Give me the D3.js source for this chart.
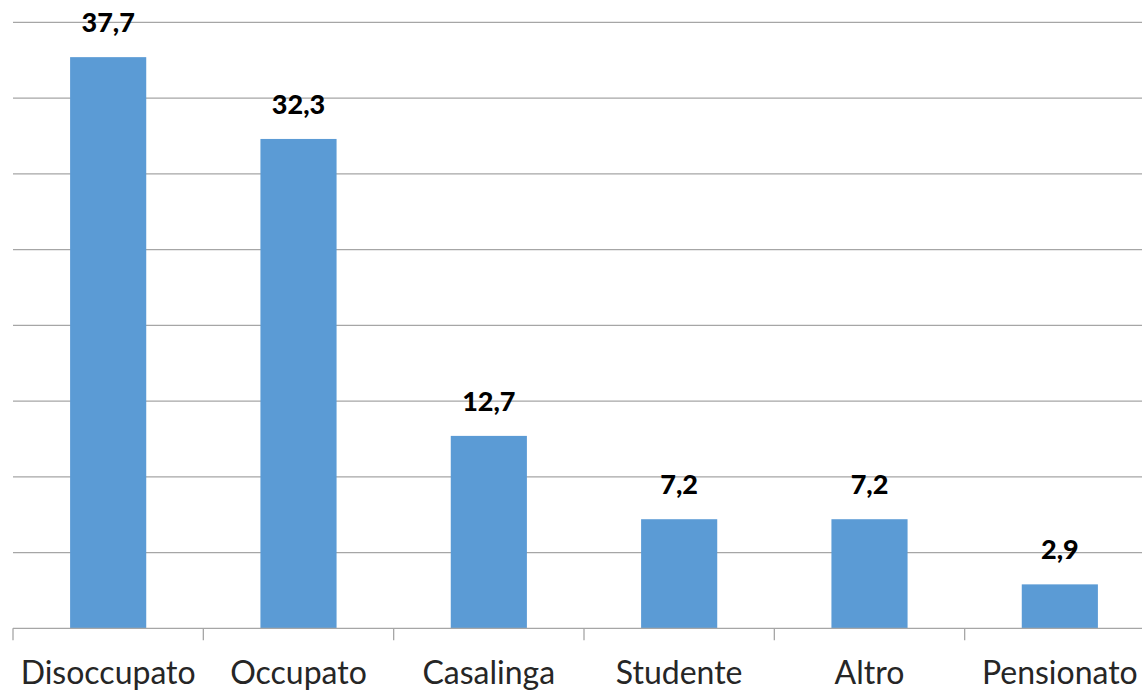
<!DOCTYPE html>
<html>
<head>
<meta charset="utf-8">
<script src="https://cdn.jsdelivr.net/npm/d3@7"></script>
<style>
  html, body { margin: 0; padding: 0; background: #fff; }
  svg { display: block; }
</style>
</head>
<body>
<svg id="chart" width="1142" height="692"></svg>
<script>
// Condizione professionale (%)
const categories = ["Disoccupato", "Occupato", "Casalinga", "Studente", "Altro", "Pensionato"];
const values = [37.7, 32.3, 12.7, 7.2, 7.2, 2.9];
const gridTicks = [0, 5, 10, 15, 20, 25, 30, 35, 40];

const svg = d3.select("#chart");
const plotLeft = 13, plotRight = 1155, plotTop = 22.3, plotBottom = 628.3;

const x = d3.scaleBand().domain(categories).range([plotLeft, plotRight]).paddingInner(0.6).paddingOuter(0.3);
const y = d3.scaleLinear().domain([0, 40]).range([plotBottom, plotTop]);

// horizontal gridlines
svg.append("g")
  .selectAll("line")
  .data(gridTicks.filter(d => d > 0))
  .join("line")
  .attr("x1", plotLeft).attr("x2", 1142)
  .attr("y1", d => y(d)).attr("y2", d => y(d))
  .attr("stroke", "#a6a6a6").attr("stroke-width", 1.3);

// bars
svg.append("g")
  .selectAll("rect")
  .data(values)
  .join("rect")
  .attr("x", (d, i) => x(categories[i]))
  .attr("width", x.bandwidth())
  .attr("y", d => y(d))
  .attr("height", d => y(0) - y(d))
  .attr("fill", "#5b9bd5");

// category axis: baseline and separators between categories
const axisG = svg.append("g").attr("transform", `translate(0,${plotBottom})`);
axisG.append("line").attr("x1", plotLeft).attr("x2", 1142).attr("y1", 0).attr("y2", 0)
  .attr("stroke", "#a6a6a6").attr("stroke-width", 1.3);
const boundaries = d3.range(categories.length + 1).map(i => plotLeft + i * (plotRight - plotLeft) / categories.length);
axisG.selectAll(".sep").data(boundaries).join("line")
  .attr("class", "sep")
  .attr("x1", d => d).attr("x2", d => d).attr("y1", 0).attr("y2", 12)
  .attr("stroke", "#a6a6a6").attr("stroke-width", 1.3);

svg.append("g")
  .selectAll("text")
  .data(categories)
  .join("text")
  .attr("x", d => x(d) + x.bandwidth() / 2)
  .attr("y", 684)
  .attr("text-anchor", "middle")
  .attr("font-family", "Lato, sans-serif")
  .attr("font-size", 32)
  .attr("fill", "#262626")
  .text(d => d);

// value labels
svg.append("g")
  .selectAll("text")
  .data(values)
  .join("text")
  .attr("x", (d, i) => x(categories[i]) + x.bandwidth() / 2)
  .attr("y", d => y(d) - 25)
  .attr("text-anchor", "middle")
  .attr("font-family", "Lato, sans-serif")
  .attr("font-weight", "900")
  .attr("font-size", 27)
  .attr("fill", "#000")
  .text(d => d.toFixed(1).replace(".", ","));
</script>
</body>
</html>
